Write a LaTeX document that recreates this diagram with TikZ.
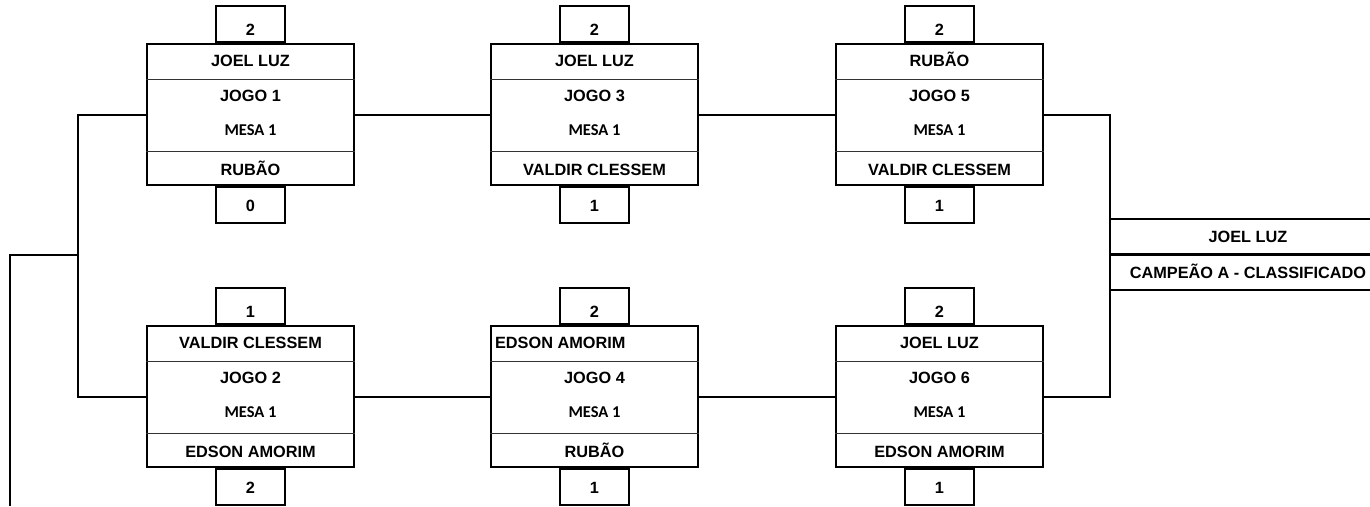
\documentclass[tikz,border=0pt]{standalone}
\usepackage{fontspec}
\setmainfont{Liberation Sans}
\newfontfamily\mesafont{Carlito}
\tikzset{
  box/.style={draw, line width=2.2pt, minimum width=207pt, minimum height=141pt, inner sep=0pt},
  score/.style={draw, line width=2.2pt, minimum width=69pt, minimum height=36pt, inner sep=0pt},
  lbl/.style={font=\bfseries\fontsize{16.3}{16.3}\selectfont, inner sep=0pt, anchor=base},
  mesa/.style={font=\mesafont\bfseries\fontsize{16.5}{16.5}\selectfont, inner sep=0pt, anchor=base},
  div/.style={line width=1pt, draw=black!80},
  wire/.style={line width=2.2pt},
  champline/.style={line width=1.4pt},
}
% #1 name, #2 centre x, #3 top y, #4 jogo, #5 bottom player, #6 top score, #7 bottom score
\newcommand\gamebox[7]{%
  \node[box, anchor=north] (#1) at (#2,#3) {};
  \node[score, anchor=south] (#1t) at (#1.north) {};
  \node[score, anchor=north] (#1b) at (#1.south) {};
  \node[lbl] (#1ts) at ([yshift=-11.8pt]#1t.center) {#6};
  \node[lbl] (#1bs) at ([yshift=-5.8pt]#1b.center) {#7};
  \draw[div] ([yshift=-36pt]#1.north west) -- ([yshift=-36pt]#1.north east);
  \draw[div] ([yshift=35pt]#1.south west) -- ([yshift=35pt]#1.south east);
  \node[lbl] (#1j) at ([yshift=-58.3pt]#1.north) {#4};
  \node[mesa] (#1m) at ([yshift=-92.8pt]#1.north) {MESA 1};
  \node[lbl] (#1p) at ([yshift=11.2pt]#1.south) {#5};
}
\begin{document}
\begin{tikzpicture}[x=1pt,y=-1pt]
\useasboundingbox (0,0) rectangle (1370,506);
\gamebox{g1}{250.5}{43}{JOGO 1}{RUBÃO}{2}{0}
\gamebox{g3}{594.5}{43}{JOGO 3}{VALDIR CLESSEM}{2}{1}
\gamebox{g5}{939.5}{43}{JOGO 5}{VALDIR CLESSEM}{2}{1}
\gamebox{g2}{250.5}{325}{JOGO 2}{EDSON AMORIM}{1}{2}
\gamebox{g4}{594.5}{325}{JOGO 4}{RUBÃO}{2}{1}
\gamebox{g6}{939.5}{325}{JOGO 6}{EDSON AMORIM}{2}{1}
% top players
\node[lbl] (g1a) at ([yshift=-23.8pt]g1.north) {JOEL LUZ};
\node[lbl] (g3a) at ([yshift=-23.8pt]g3.north) {JOEL LUZ};
\node[lbl] (g5a) at ([yshift=-23.8pt]g5.north) {RUBÃO};
\node[lbl] (g2a) at ([yshift=-23.8pt]g2.north) {VALDIR CLESSEM};
\node[lbl, anchor=base west] (g4a) at ([xshift=5pt,yshift=-23.8pt]g4.north west) {EDSON AMORIM};
\node[lbl] (g6a) at ([yshift=-23.8pt]g6.north) {JOEL LUZ};
% connectors
\draw[wire] (g1.east) -- (g3.west);
\draw[wire] (g3.east) -- (g5.west);
\draw[wire] (g2.east) -- (g4.west);
\draw[wire] (g4.east) -- (g6.west);
\coordinate (lb) at (78,255);
\coordinate (tail) at (10,506);
\draw[wire] (g1.west) -| (lb) |- (g2.west);
\draw[wire] (lb) -| (tail);
\coordinate (rb) at (1110,255);
\draw[wire] (g5.east) -| (rb) |- (g6.east);
% champion
\coordinate (c1) at (1110,219);
\coordinate (c2) at (1110,254.5);
\coordinate (c3) at (1110,290);
\coordinate (c1e) at (1370,219);
\coordinate (c2e) at (1370,254.5);
\coordinate (c3e) at (1370,290);
\draw[champline] (c1) -- (c1e);
\draw[wire] (c2) -- (c2e);
\draw[champline] (c3) -- (c3e);
\node[lbl] (champ) at (1248,242.5) {JOEL LUZ};
\node[lbl] (champt) at (1248,278) {CAMPEÃO A - CLASSIFICADO};
\end{tikzpicture}
\end{document}
